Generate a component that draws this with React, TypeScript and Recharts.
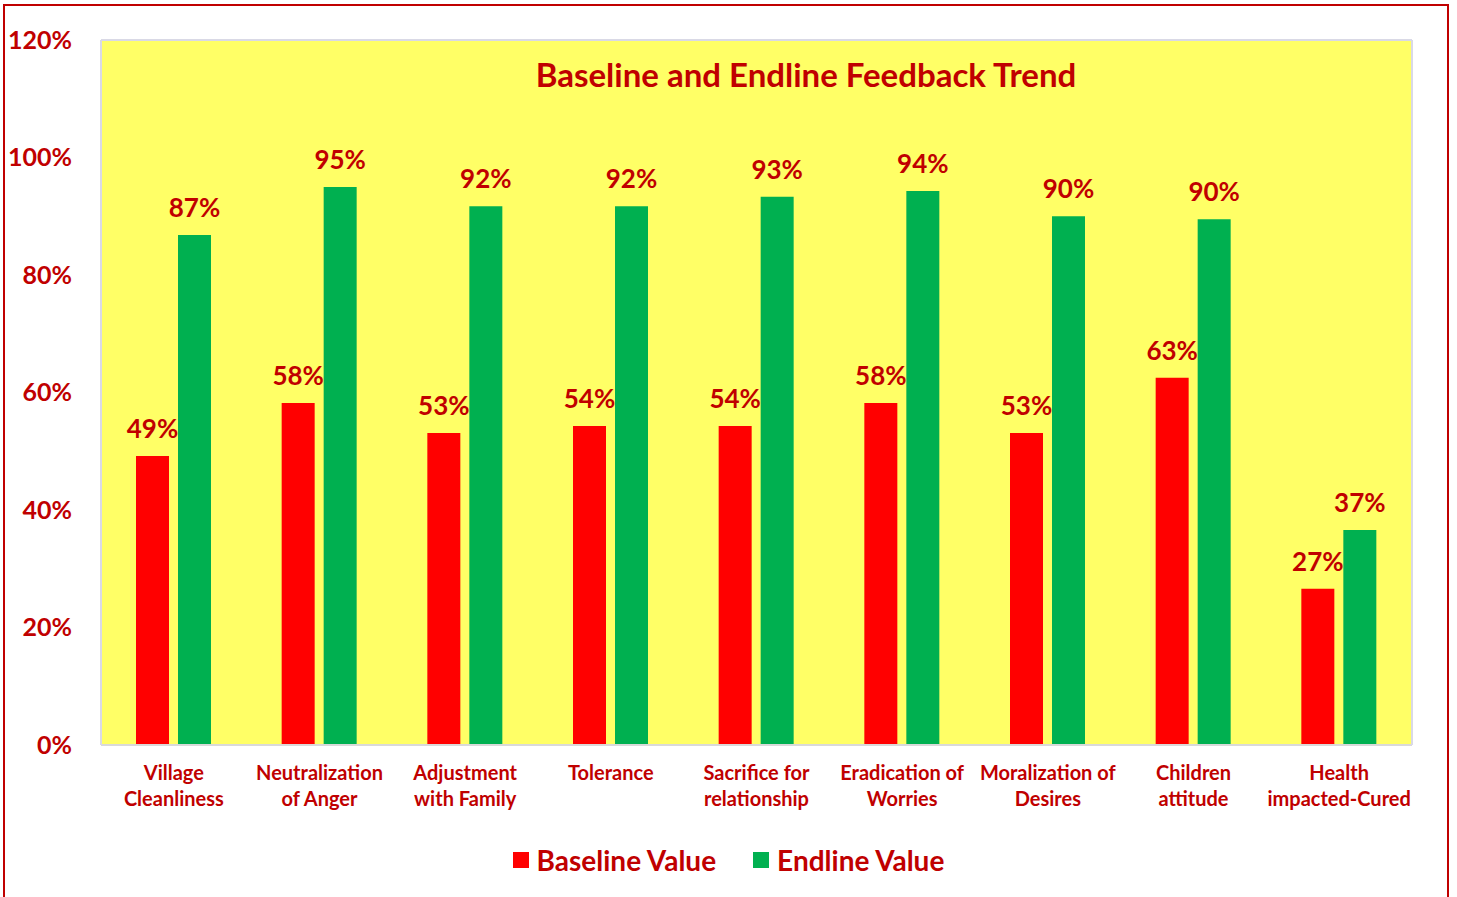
import React from 'react';
import { BarChart, Bar, XAxis, YAxis, CartesianGrid, LabelList } from 'recharts';

const categories = [
  'Village\nCleanliness',
  'Neutralization\nof Anger',
  'Adjustment\nwith Family',
  'Tolerance',
  'Sacrifice for\nrelationship',
  'Eradication of\nWorries',
  'Moralization of\nDesires',
  'Children\nattitude',
  'Health\nimpacted-Cured',
];
const baselineValues = [49.2, 58.2, 53.1, 54.3, 54.3, 58.2, 53.1, 62.5, 26.6];
const endlineValues = [86.8, 95.0, 91.7, 91.7, 93.3, 94.3, 90.0, 89.5, 36.6];
const yTicks = [0, 20, 40, 60, 80, 100, 120];

const data = categories.map((name, i) => ({
  name,
  baseline: baselineValues[i],
  endline: endlineValues[i],
}));

const DARK_RED = '#c00000';
const FONT = 'Lato, "Open Sans", sans-serif';

const CategoryTick = ({ x, y, payload }: any) => {
  const lines = String(payload.value).split('\n');
  return (
    <text x={x} y={y} textAnchor="middle" fill={DARK_RED} fontFamily={FONT} fontWeight={700} fontSize={20}>
      {lines.map((l, i) => (
        <tspan key={i} x={x} dy={i === 0 ? 27 : 26}>{l}</tspan>
      ))}
    </text>
  );
};

const legendItems = [
  ['Baseline Value', '#ff0000'],
  ['Endline Value', '#00b050'],
];

export default function App() {
  return (
    <div style={{ position: 'absolute', left: 0, top: 0, width: 1457, height: 897, overflow: 'hidden', background: '#fff' }}>
      <div style={{ position: 'absolute', left: 3, top: 4, width: 1442, height: 910, border: `2px solid ${DARK_RED}` }} />
      <div style={{ position: 'absolute', left: 0, top: 0 }}>
        <BarChart width={1457} height={897} data={data} margin={{ top: 40, right: 0, left: 0, bottom: 0 }} barSize={33} barGap={9}>
          <CartesianGrid vertical={false} fill="#ffff66" stroke="#d9d9e6" strokeWidth={2} />
          <XAxis
            dataKey="name"
            interval={0}
            tick={<CategoryTick />}
            tickLine={false}
            axisLine={{ stroke: '#d9d9d9', strokeWidth: 2 }}
            height={152}
          />
          <YAxis
            yAxisId="left"
            domain={[0, 120]}
            ticks={yTicks}
            width={101}
            tickFormatter={(v: number) => `${v}%`}
            tick={{ fill: DARK_RED, fontFamily: FONT, fontWeight: 700, fontSize: 25 }}
            tickLine={false}
            tickSize={0}
            tickMargin={29}
            axisLine={{ stroke: '#d9d9e6', strokeWidth: 2 }}
          />
          <YAxis yAxisId="right" orientation="right" width={45} tick={false} tickLine={false} axisLine={{ stroke: '#d9d9e6', strokeWidth: 2 }} domain={[0, 120]} />
          <Bar yAxisId="left" dataKey="baseline" fill="#ff0000" isAnimationActive={false}>
            <LabelList dataKey="baseline" position="top" offset={18} formatter={(v: any) => `${Math.round(v)}%`} fill={DARK_RED} fontFamily={FONT} fontWeight={700} fontSize={26} />
          </Bar>
          <Bar yAxisId="left" dataKey="endline" fill="#00b050" isAnimationActive={false}>
            <LabelList dataKey="endline" position="top" offset={18} formatter={(v: any) => `${Math.round(v)}%`} fill={DARK_RED} fontFamily={FONT} fontWeight={700} fontSize={26} />
          </Bar>
          <text x={806} y={74} textAnchor="middle" dominantBaseline="central" fill={DARK_RED} fontFamily={FONT} fontWeight={700} fontSize={33}>
            Baseline and Endline Feedback Trend
          </text>
        </BarChart>
      </div>
      <div style={{ position: 'absolute', left: 0, top: 842, width: 1457, height: 36, display: 'flex', justifyContent: 'center', alignItems: 'center', gap: 37, fontFamily: FONT, fontWeight: 700, fontSize: 28, color: DARK_RED }}>
        {legendItems.map(([label, c]) => (
          <span key={label} style={{ display: 'flex', alignItems: 'center' }}>
            <span style={{ width: 16, height: 16, background: c, marginRight: 8, display: 'inline-block' }} />
            {label}
          </span>
        ))}
      </div>
    </div>
  );
}
